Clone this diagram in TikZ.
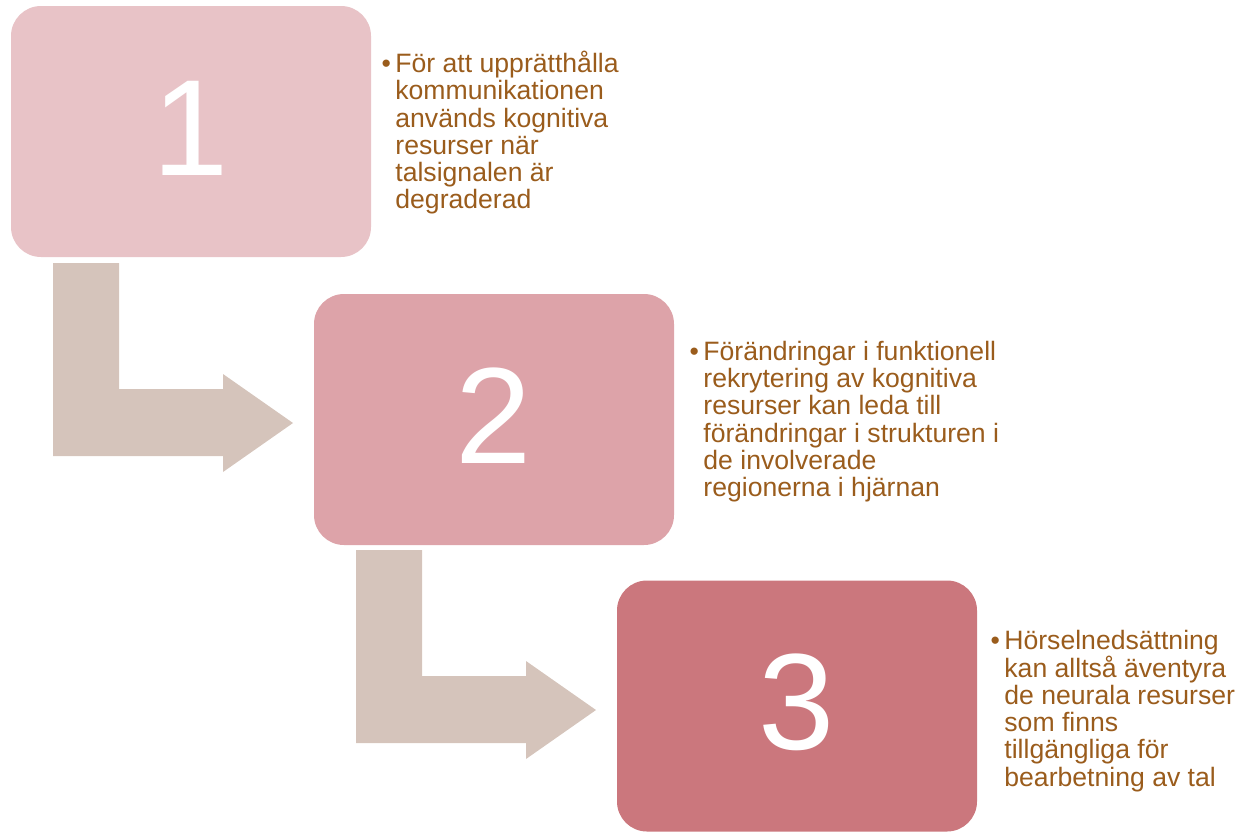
\documentclass[tikz,border=0pt]{standalone}
\usepackage{fontspec}
\setmainfont{Liberation Sans}
\usepackage{xcolor}
\usetikzlibrary{positioning}
\definecolor{stepone}{HTML}{E8C3C7}
\definecolor{steptwo}{HTML}{DDA3A9}
\definecolor{stepthree}{HTML}{CB777D}
\definecolor{bentarrow}{HTML}{D5C4BB}
\definecolor{desctext}{HTML}{9A5C1C}

\begin{document}
\begin{tikzpicture}[x=1pt, y=-1pt]
        % --- estilos ---
        \tikzstyle{stepbox} = [
            rectangle,
            rounded corners=30pt,
            minimum width=360pt,
            minimum height=251pt,
            inner sep=0pt,
            text height=98pt,
            text depth=11pt,
            text=white,
            font=\fontsize{137}{137}\selectfont
        ]
        \tikzstyle{desc} = [
            anchor=north west,
            align=left,
            inner sep=0pt,
            text=desctext,
            font=\fontsize{26.6}{27.3}\selectfont
        ]
        \useasboundingbox (0,0) rectangle (1237,831);

        % --- setas dobradas ---
        \foreach \s in {0,1}
            \fill[bentarrow, shift={(\s*303,\s*287)}]
                (53,263) -- (119,263) -- (119,389) -- (223,389) -- (223,374)
                -- (293,423) -- (223,472) -- (223,456) -- (53,456) -- cycle;

        % --- nós (etapas) ---
        \node (box1) [stepbox, fill=stepone] at (191,131.5) {1};
        \node (box2) [stepbox, fill=steptwo] at (494,419.5) {2};
        \node (box3) [stepbox, fill=stepthree] at (797,706) {3};

        % --- textos ---
        \node (txt1) [desc] at ([xshift=24pt, yshift=-45pt]box1.north east)
            {\llap{\textbullet\,}För att upprätthålla\\kommunikationen\\används kognitiva\\resurser när\\talsignalen är\\degraderad};
        \node (txt2) [desc] at ([xshift=29pt, yshift=-47pt]box2.north east)
            {\llap{\textbullet\,}Förändringar i funktionell\\rekrytering av kognitiva\\resurser kan leda till\\förändringar i strukturen i\\de involverade\\regionerna i hjärnan};
        \node (txt3) [desc] at ([xshift=27pt, yshift=-50pt]box3.north east)
            {\llap{\textbullet\,}Hörselnedsättning\\kan alltså äventyra\\de neurala resurser\\som finns\\tillgängliga för\\bearbetning av tal};
    \end{tikzpicture}
\end{document}
